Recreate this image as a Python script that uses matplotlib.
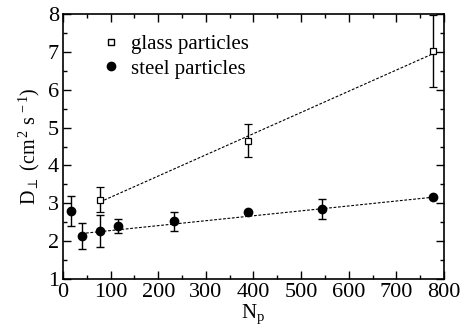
import matplotlib
matplotlib.use("Agg")
import matplotlib.pyplot as plt
import numpy as np
from matplotlib.ticker import MultipleLocator

plt.rcParams['font.family'] = ['Liberation Serif', 'DejaVu Serif']
plt.rcParams['mathtext.fontset'] = 'custom'
plt.rcParams['mathtext.rm'] = 'Liberation Serif'
plt.rcParams['mathtext.it'] = 'Liberation Serif'

glass_N = [78, 389, 777]
glass_D = [3.09, 4.65, 7.03]
glass_err = [0.33, 0.44, 0.95]

steel_N = [16, 39, 78, 116, 233, 388, 544, 777]
steel_D = [2.80, 2.14, 2.27, 2.40, 2.52, 2.78, 2.85, 3.16]
steel_err = [0.39, 0.35, 0.42, 0.18, 0.24, 0.0, 0.26, 0.0]

glass_fit = (0.00560, 2.60)   # slope, intercept
glass_fit_range = [78, 777]
steel_fit = (0.0013, 2.15)
steel_fit_range = [39, 777]

fig = plt.figure(figsize=(4.64, 3.29), dpi=100)
ax = fig.add_axes([63/464, 1-279/329, (444-63)/464, (279-14)/329])

xg = np.array(glass_fit_range)
ax.plot(xg, glass_fit[0]*xg + glass_fit[1], ls=(0, (2.5, 1.5)), color='black', lw=0.8)
xs = np.array(steel_fit_range)
ax.plot(xs, steel_fit[0]*xs + steel_fit[1], ls=(0, (2.5, 1.5)), color='black', lw=0.8)

ax.errorbar(glass_N, glass_D, yerr=glass_err, fmt='s', mfc='white', mec='black',
            ms=5, mew=0.9, ecolor='black', elinewidth=1, capsize=3, capthick=1,
            label='glass particles')
ax.errorbar(steel_N, steel_D, yerr=steel_err, fmt='o', color='black',
            ms=6, ecolor='black', elinewidth=1, capsize=3, capthick=1,
            label='steel particles')

ax.set_xlim(0, 800)
ax.set_ylim(1, 8)
ax.xaxis.set_major_locator(MultipleLocator(100))
ax.xaxis.set_minor_locator(MultipleLocator(50))
ax.yaxis.set_major_locator(MultipleLocator(1))
ax.yaxis.set_minor_locator(MultipleLocator(0.5))
ax.tick_params(which='both', direction='in', top=True, right=True, labelsize=16, width=1)
ax.tick_params(which='major', length=6, pad=3)
ax.tick_params(which='minor', length=3)
for s in ax.spines.values():
    s.set_linewidth(1.2)

ax.set_xlabel(r'N$_\mathrm{p}$', fontsize=15, labelpad=0)
ax.set_ylabel(r'D$_\perp$ (cm$^{\,2}$ s$^{\,-1}$)', fontsize=14.5, labelpad=4)

handles, labels = ax.get_legend_handles_labels()
hs = [plt.Line2D([], [], marker='s', ls='none', mfc='white', mec='black', ms=4.5),
      plt.Line2D([], [], marker='o', ls='none', color='black', ms=6)]
ax.legend(hs, labels, loc='upper left', bbox_to_anchor=(0.037, 0.994), frameon=False,
          fontsize=15, handletextpad=0.2, labelspacing=0.25, handlelength=1.5)

fig.savefig('out.png', dpi=100)
